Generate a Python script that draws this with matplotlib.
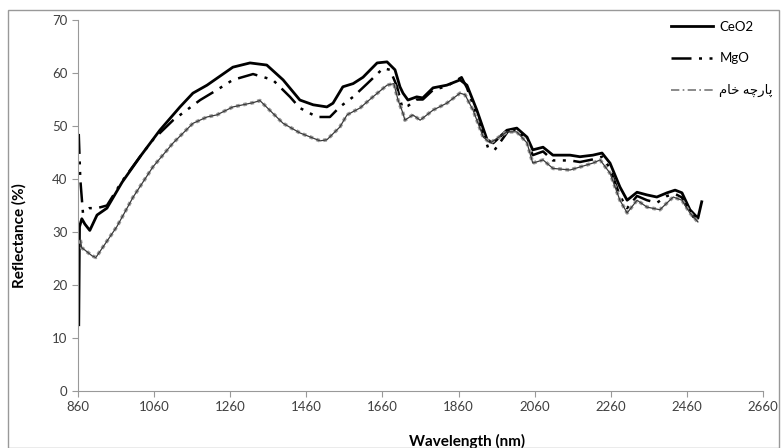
import matplotlib
matplotlib.use("Agg")
from matplotlib import pyplot as plt
from matplotlib.patches import Rectangle
from matplotlib.lines import Line2D

plt.rcParams['font.family'] = ['Lato', 'DejaVu Sans']

# CeO2 treated fabric
ceo2_wl = [862, 864, 870, 878, 891, 910, 936, 976, 1023, 1075, 1128, 1162, 1199, 1225, 1267,
           1312, 1356, 1399, 1443, 1478, 1514, 1530, 1556, 1583, 1609, 1646, 1672, 1693, 1706, 1714,
           1727, 1750, 1766, 1793, 1829, 1864, 1882, 1908, 1935, 1951, 1987, 2013, 2040, 2055, 2082,
           2108, 2153, 2179, 2213, 2237, 2258, 2284, 2303, 2329, 2355, 2381, 2408, 2429, 2447, 2468,
           2489, 2499]
ceo2_r = [12.5, 31, 32.5, 31.5, 30.3, 33.2, 34.5, 39.4, 44.2, 49.2, 53.6, 56.2, 57.7, 59, 61.1,
          61.9, 61.5, 58.7, 54.9, 54, 53.6, 54.3, 57.4, 58, 59.2, 61.9, 62.1, 60.6, 57.4, 56.2,
          54.9, 55.5, 55.3, 57.2, 57.7, 58.7, 57.7, 53, 47.4, 46.8, 49.2, 49.6, 47.9, 45.5, 46,
          44.5, 44.5, 44.2, 44.5, 44.9, 43, 38.5, 36, 37.5, 37, 36.6, 37.4, 37.9, 37.4, 34.2,
          32.6, 35.7]

# MgO treated fabric
mgo_wl = [862, 866, 873, 890, 910, 936, 976, 1023, 1057, 1110, 1181, 1225, 1267, 1320, 1372,
          1417, 1443, 1488, 1522, 1548, 1583, 1620, 1662, 1680, 1698, 1712, 1727, 1750, 1766, 1793,
          1829, 1868, 1882, 1908, 1938, 1955, 1990, 2013, 2040, 2055, 2082, 2108, 2153, 2179, 2213,
          2237, 2258, 2284, 2303, 2329, 2355, 2381, 2408, 2429, 2447, 2468, 2489]
mgo_r = [48.5, 40, 33.6, 34.5, 34.5, 35, 39.6, 44.2, 47.4, 51.1, 54.9, 56.8, 58.7, 59.8, 58.7,
         55.5, 53.4, 51.7, 51.7, 53.6, 55.5, 58, 60.9, 60.6, 57.5, 53.5, 53.8, 55, 55, 56.8,
         57.5, 59.2, 57.2, 52, 45.8, 45.5, 49, 49.4, 47.2, 44.5, 45.2, 43.5, 43.5, 43.2, 43.7,
         44.2, 42, 36.8, 34.5, 36.8, 36, 35.5, 36.8, 37.2, 36.5, 33.5, 32]

# raw fabric
raw_wl = [866, 870, 878, 897, 907, 962, 1005, 1057, 1110, 1162, 1199, 1225, 1267, 1320, 1338,
          1399, 1443, 1496, 1514, 1548, 1567, 1601, 1635, 1672, 1690, 1701, 1714, 1719, 1740, 1759,
          1793, 1829, 1864, 1877, 1898, 1925, 1943, 1987, 2013, 2040, 2055, 2082, 2108, 2153, 2213,
          2232, 2258, 2284, 2303, 2329, 2355, 2389, 2424, 2447, 2468, 2489]
raw_r = [28.5, 27, 26.6, 25.5, 25.2, 31, 36.6, 42.3, 46.8, 50.5, 51.7, 52.1, 53.6, 54.4, 54.8,
         50.5, 48.7, 47.2, 47.4, 49.8, 52.1, 53.4, 55.5, 57.7, 58, 54.9, 52.4, 51.1, 52.1, 51.1,
         53, 54.3, 56.2, 55.9, 53, 47.9, 46.8, 48.9, 48.9, 46.8, 43, 43.6, 42, 41.7, 43,
         43.6, 41.1, 36, 33.6, 36, 34.7, 34.2, 36.6, 36, 33.6, 31.9]

labels = ["CeO2", "MgO", "\uFEE1\uFE8E\uFEA7 \uFEEA\uFB7C\uFEAD\uFE8E\uFB58"]  # پارچه خام
xticks = list(range(860, 2661, 200))
yticks = list(range(0, 71, 10))

fig = plt.figure(figsize=(7.81, 4.48), dpi=100)
ax = fig.add_axes([78/781, 1-391/448, 685/781, 371/448])

# outer chart border
fig.patches.append(Rectangle((8/781, 0), 771/781, 1-10/448, transform=fig.transFigure,
                             fill=False, edgecolor='#999999', linewidth=1))

ax.plot(ceo2_wl, ceo2_r, color='black', lw=2, label=labels[0])
ax.plot(mgo_wl, mgo_r, color='black', lw=1.8, linestyle=(0, (8, 3, 1.2, 3, 1.2, 3)), label=labels[1])
# raw: thin dark line with a dotted grey halo
ax.plot(raw_wl, raw_r, color='#9a9a9a', lw=2.6, linestyle=(0, (1, 1)))
ax.plot(raw_wl, raw_r, color='#3a3a3a', lw=0.9)

ax.set_xlim(860, 2660)
ax.set_ylim(0, 70)
ax.set_xticks(xticks)
ax.set_yticks(yticks)
for s in ['top', 'right']:
    ax.spines[s].set_visible(False)
for s in ['left', 'bottom']:
    ax.spines[s].set_color('#999999')
ax.tick_params(direction='out', length=4, color='#999999', labelcolor='#404040', labelsize=9.5)

ax.set_xlabel("Wavelength (nm)", fontsize=11, fontweight='bold', color='black')
ax.xaxis.set_label_coords(0.568, -0.115)
ax.set_ylabel("Reflectance (%)", fontsize=11, fontweight='bold', color='black')
ax.yaxis.set_label_coords(-0.075, 0.42)

handles = [Line2D([], [], color='black', lw=2),
           Line2D([], [], color='black', lw=1.8, linestyle=(0, (8, 3, 1.2, 3, 1.2, 3))),
           Line2D([], [], color='#777777', lw=1.2, linestyle=(0, (5, 2, 1, 2)))]
ax.legend(handles, labels, loc='upper left', bbox_to_anchor=(664/781, 1-14/448),
          bbox_transform=fig.transFigure, frameon=False, handlelength=3.2, labelspacing=1.5,
          borderpad=0, handletextpad=0.5, prop={'family': ['Lato', 'DejaVu Sans'], 'size': 9.5})

fig.savefig("out.png", dpi=100)
